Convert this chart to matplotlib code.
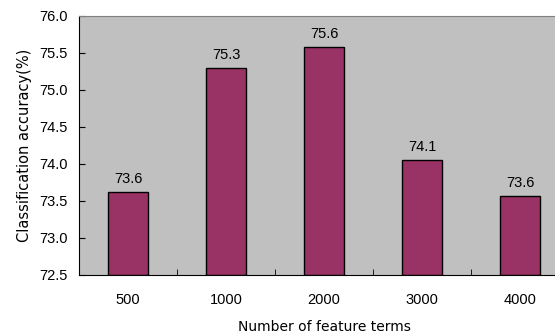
import matplotlib
matplotlib.use("Agg")
import matplotlib.pyplot as plt
import numpy as np

categories = ["500", "1000", "2000", "3000", "4000"]
accuracy = [73.62, 75.30, 75.58, 74.06, 73.57]
yticks = [72.5, 73.0, 73.5, 74.0, 74.5, 75.0, 75.5, 76.0]

plt.rcParams['font.family'] = ['Liberation Sans', 'DejaVu Sans']

fig = plt.figure(figsize=(5.55, 3.33), dpi=100)
ax = fig.add_axes([79/555, 1-275/333, 490/555, 259/333])
ax.set_facecolor('#c0c0c0')

x = np.arange(len(categories))
bars = ax.bar(x, [v - 72.5 for v in accuracy], bottom=72.5, width=0.41,
              color='#993366', edgecolor='black', linewidth=1)
for xi, v in zip(x, accuracy):
    ax.text(xi, v + 0.08, f"{v:.1f}", ha='center', va='bottom', fontsize=10.5)

ax.set_xlim(-0.5, len(categories) - 0.5)
ax.set_ylim(72.5, 76.0)
ax.set_yticks(yticks)
ax.set_yticklabels([f"{t:.1f}" for t in yticks], fontsize=10.5)
ax.set_xticks(x)
ax.set_xticklabels(categories, fontsize=10.5)
ax.tick_params(axis='x', length=0, pad=13)
ax.tick_params(axis='y', direction='in', length=4, pad=8)
ax.set_xticks(np.arange(0.5, len(categories) - 0.5, 1), minor=True)
ax.tick_params(axis='x', which='minor', direction='in', length=4)

ax.spines['right'].set_visible(False)
ax.spines['top'].set_color('#808080')
ax.spines['left'].set_color('black')
ax.spines['bottom'].set_color('black')

ax.set_xlabel("Number of feature terms", fontsize=10, labelpad=9,
              family=['DejaVu Sans'])
ax.set_ylabel("Classification accuracy(%)", fontsize=10.5, labelpad=5,
              family=['DejaVu Sans'])

fig.savefig("out.png", dpi=100)
